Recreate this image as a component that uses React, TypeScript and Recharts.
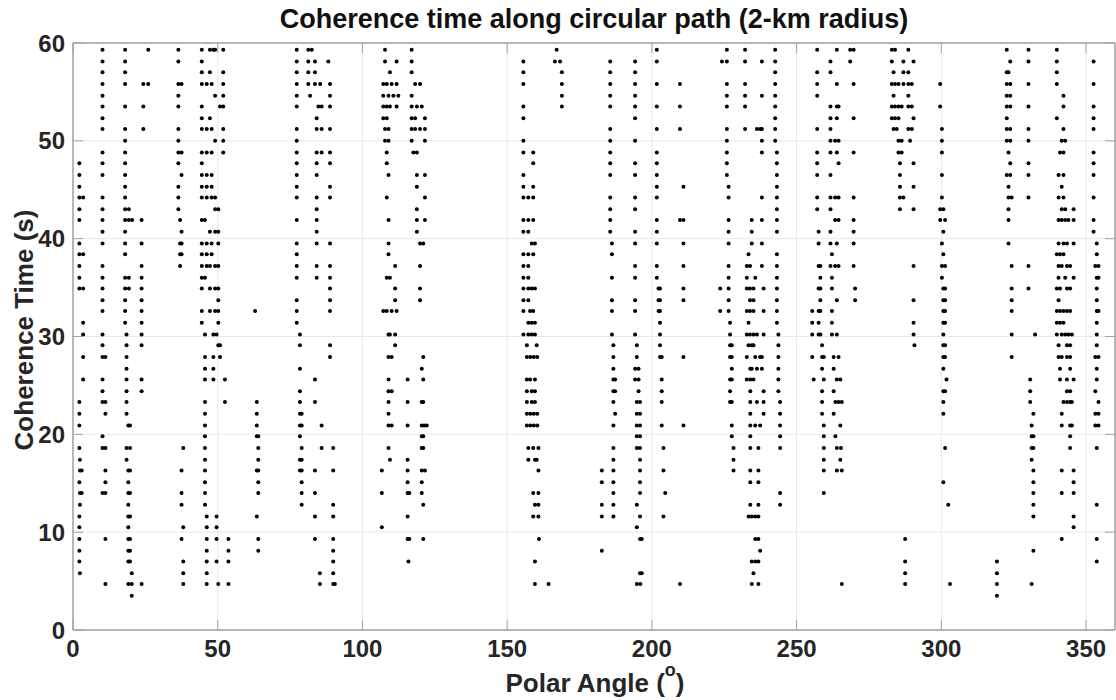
import React from 'react';
import { ScatterChart, Scatter, XAxis, YAxis, CartesianGrid, ReferenceLine } from 'recharts';

type Row = [number, number[]];

const xTicks = [0, 50, 100, 150, 200, 250, 300, 350];
const yTicks = [0, 10, 20, 30, 40, 50, 60];

// Each row: [coherence time (s), polar angles (deg) of the points at that time]
const topLeft: Row[] = [
  [59.3, [10.2, 18.0, 26.0, 36.4, 44.5, 47.3, 48.5, 49.1, 51.9, 77.3, 81.3, 82.5, 107.8]],
  [58.1, [10.2, 18.0, 36.4, 44.5, 77.3, 81.3, 83.6, 88.2, 107.8, 111.8]],
  [57.0, [10.2, 18.0, 44.5, 47.3, 51.9, 77.3, 81.3, 83.6, 109.5]],
  [55.8, [10.2, 18.0, 24.3, 26.0, 36.4, 37.5, 44.5, 46.2, 47.9, 51.9, 77.3, 81.3, 83.6, 85.4, 88.8, 107.2, 108.4, 110.1, 111.8]],
  [54.6, [10.2, 36.4, 49.1, 51.9, 77.3, 81.9, 88.8, 107.2, 109.0, 110.7, 112.4]],
  [53.5, [10.2, 18.0, 24.3, 36.4, 44.5, 50.8, 51.9, 77.3, 84.8, 85.9, 88.8, 107.2, 108.4, 109.5, 111.8]],
  [52.3, [10.2, 44.5, 47.3, 84.2, 107.2, 108.4]],
  [51.2, [10.2, 18.0, 24.3, 36.4, 44.5, 46.2, 47.9, 51.9, 77.3, 84.2, 85.9, 88.8, 107.8, 109.0]],
  [50.0, [18.0, 36.4, 49.1, 51.9, 77.3, 107.8, 109.0]],
  [48.8, [10.2, 18.0, 36.4, 37.5, 44.5, 46.2, 47.9, 51.9, 77.3, 84.2, 85.9, 88.8, 108.4]],
  [47.7, [2.2, 10.2, 18.0, 36.4, 44.5, 77.3, 84.2, 88.8, 108.4]],
  [46.5, [2.2, 10.2, 18.0, 37.5, 44.5, 46.2, 47.9, 77.3, 84.2, 109.0]],
  [45.3, [2.2, 18.0, 36.4, 44.5, 46.2, 47.9, 77.3, 88.8]],
  [44.2, [2.2, 3.5, 10.2, 18.0, 36.4, 44.5, 46.2, 47.9, 49.1, 77.3, 84.2, 88.8, 108.4]],
  [43.0, [2.2, 10.2, 18.0, 19.3, 36.4, 49.1, 50.2, 84.2]],
  [41.9, [2.2, 10.2, 18.0, 19.3, 20.4, 23.7, 37.0, 44.5, 45.6, 77.3, 84.2, 109.0]],
  [40.7, [10.2, 18.0, 37.5, 47.3, 49.1, 50.2, 84.2]],
  [39.5, [2.2, 10.2, 18.0, 23.7, 37.0, 37.5, 44.5, 46.2, 47.9, 50.2, 77.3, 84.2, 88.8, 109.0]],
  [38.4, [2.2, 3.5, 18.0, 37.0, 37.5, 44.5, 46.2, 47.9, 77.3, 109.0]],
  [37.2, [2.2, 10.2, 23.7, 37.0, 44.5, 46.2, 47.3, 49.1, 50.2, 77.3, 84.2, 88.8, 111.3]],
  [36.0, [2.2, 10.2, 18.0, 19.3, 23.7, 44.5, 45.6, 77.3, 84.2, 88.8, 108.4, 109.5]],
  [34.9, [2.2, 3.5, 10.2, 18.0, 19.3, 23.7, 44.5, 47.3, 49.1, 50.2, 88.8, 111.3]],
  [33.7, [10.2, 18.0, 23.7, 50.2, 77.3, 88.8, 111.3]],
  [32.6, [10.2, 18.0, 23.7, 44.5, 47.3, 49.1, 50.2, 62.9, 77.3, 88.8, 107.2, 108.4, 110.1, 111.8]],
  [31.4, [3.5, 18.0, 23.7, 44.5, 50.2, 77.3]],
];

const bottomLeft: Row[] = [
  [30.2, [3.5, 10.2, 18.5, 23.7, 45.6, 48.5, 49.6, 78.4, 109.0, 109.5, 111.3]],
  [29.1, [10.2, 18.5, 23.7, 50.2, 50.8, 78.4, 88.8, 111.3]],
  [27.9, [3.5, 10.2, 11.2, 18.5, 45.6, 48.5, 50.8, 88.8, 109.0, 110.1]],
  [26.7, [18.5, 45.6, 48.5, 78.4]],
  [25.6, [3.5, 10.2, 18.5, 23.7, 45.6, 48.5, 52.5, 83.6, 109.0]],
  [24.4, [10.2, 18.5, 23.7, 78.4, 109.0, 110.1]],
  [23.3, [2.2, 10.2, 11.2, 18.5, 45.6, 52.5, 63.5, 78.4, 83.6, 109.0]],
  [22.1, [2.2, 11.2, 18.5, 45.6, 63.5, 78.4, 79.0, 109.0]],
  [20.9, [2.2, 19.1, 19.7, 45.6, 63.5, 78.4, 79.0, 85.9, 109.0, 110.1]],
  [19.8, [10.2, 45.6, 63.5, 64.0, 78.4]],
  [18.6, [2.2, 10.2, 11.2, 18.5, 19.7, 38.1, 45.6, 64.0, 79.0, 85.9, 89.9, 109.0]],
  [17.4, [2.4, 18.5, 45.6, 64.0, 78.4, 79.0, 109.5]],
  [16.3, [2.4, 3.0, 11.2, 19.1, 19.7, 37.5, 45.6, 63.5, 64.0, 78.4, 79.0, 83.6, 89.9, 106.7]],
  [15.1, [2.2, 11.2, 19.1, 45.6, 64.0, 79.0]],
  [14.0, [2.4, 3.0, 10.2, 11.2, 19.1, 19.7, 37.5, 45.6, 64.0, 79.0, 83.6, 106.7]],
  [12.8, [2.4, 19.1, 37.5, 45.6, 79.0, 89.9]],
  [11.6, [2.2, 19.1, 19.7, 46.2, 49.6, 63.5, 83.6, 89.9]],
  [10.5, [2.2, 19.1, 38.1, 46.2, 49.6, 106.7]],
  [9.3, [2.2, 11.2, 19.1, 19.7, 37.5, 46.2, 49.6, 53.7, 64.0, 83.6, 89.9]],
  [8.1, [2.2, 19.1, 19.7, 46.2, 53.7, 64.0, 89.9]],
  [7.0, [2.2, 19.1, 19.7, 38.1, 46.2, 49.6, 53.7, 89.9]],
  [5.8, [2.4, 20.3, 38.1, 46.2, 85.3, 89.9]],
  [4.7, [11.2, 19.1, 20.3, 23.7, 38.1, 46.2, 50.2, 53.7, 85.3, 89.9, 90.5]],
  [3.5, [20.3]],
];

const topMid: Row[] = [
  [59.3, [117.0, 167.1]],
  [58.1, [117.0, 155.6, 166.5, 168.3, 185.6, 194.2]],
  [57.0, [117.0, 155.6, 168.9, 185.6, 194.2]],
  [55.8, [118.2, 119.9, 155.6, 168.9, 185.6, 194.2]],
  [54.6, [117.0, 168.9, 185.6, 194.2]],
  [53.5, [117.0, 118.8, 120.5, 155.6, 168.9, 185.6, 194.2]],
  [52.3, [117.0, 118.2, 121.6, 155.6, 194.2]],
  [51.2, [117.0, 118.2, 119.9, 121.6, 185.6]],
  [50.0, [117.0, 121.6, 155.6, 185.6, 194.2]],
  [48.8, [117.6, 118.8, 155.6, 159.0, 185.6]],
  [47.7, [159.0, 185.6, 194.2]],
  [46.5, [118.8, 121.6, 155.6, 185.6, 194.2]],
  [45.3, [118.8, 155.6, 159.0]],
  [44.2, [121.6, 155.6, 157.3, 159.0, 185.6, 194.2]],
  [43.0, [118.8, 185.6, 194.2]],
  [41.9, [118.8, 121.6, 155.6, 157.3, 159.0, 185.6]],
  [40.7, [118.8, 155.6, 157.3, 185.6, 194.2]],
  [39.5, [119.9, 121.0, 158.5, 159.6, 186.2, 194.2]],
  [38.4, [155.6, 157.3, 159.0, 186.2]],
  [37.2, [119.9, 155.6, 157.3, 194.2]],
  [36.0, [155.6, 157.3, 186.2, 194.2]],
  [34.9, [119.9, 155.6, 157.3, 158.5, 159.6]],
  [33.7, [119.9, 155.6, 157.3, 186.2, 194.2]],
  [32.6, [155.6, 157.9, 159.0, 186.2, 194.2]],
  [31.4, [157.3, 158.5, 159.6]],
  [30.2, [155.6, 157.3, 158.5, 159.6, 186.2, 194.2]],
];

const bottomMid: Row[] = [
  [29.1, [156.8, 160.2, 186.7, 194.8]],
  [27.9, [121.0, 156.8, 158.0, 159.2, 160.4, 186.7, 194.8]],
  [26.7, [120.5, 186.7, 194.2, 195.4]],
  [25.6, [115.6, 121.0, 156.8, 157.9, 159.6, 186.7, 187.3, 194.2, 195.4]],
  [24.4, [156.8, 158.5, 159.6, 186.7, 187.3, 195.4]],
  [23.3, [115.6, 120.5, 121.0, 156.8, 158.5, 159.6, 186.7, 194.8, 195.9]],
  [22.1, [156.8, 158.0, 159.2, 160.4, 187.3, 194.8, 195.9]],
  [20.9, [115.6, 120.5, 121.3, 122.2, 156.8, 158.0, 159.2, 160.4, 186.7, 194.8, 195.9]],
  [19.8, [120.5, 121.0, 194.8, 195.9]],
  [18.6, [120.5, 121.0, 157.3, 159.0, 160.8, 186.7, 194.8, 195.9]],
  [17.4, [115.6, 157.3, 159.6, 160.2, 186.7, 195.9]],
  [16.3, [115.6, 120.5, 121.6, 160.8, 182.7, 186.7, 195.9]],
  [15.1, [115.6, 120.5, 182.7, 186.7, 195.9]],
  [14.0, [115.6, 116.2, 120.5, 159.0, 160.8, 186.7, 195.9]],
  [12.8, [121.0, 159.6, 160.8, 182.7, 186.7, 194.8]],
  [11.6, [115.6, 159.0, 160.8, 182.7, 186.7, 195.9]],
  [10.5, [194.8]],
  [9.3, [115.6, 116.2, 121.0, 161.0, 195.9, 196.5]],
  [8.1, [182.7]],
  [7.0, [115.9, 159.6]],
  [5.8, [195.9, 196.5]],
  [4.7, [159.6, 164.3, 194.8, 196.0]],
];

const topRightA: Row[] = [
  [59.3, [201.7, 225.9, 232.2, 242.6, 257.1, 263.9, 268.5, 269.7]],
  [58.1, [201.7, 224.2, 225.9, 232.2, 238.0, 242.6, 261.7, 268.5]],
  [57.0, [242.6, 257.1, 261.7]],
  [55.8, [201.7, 209.7, 225.9, 232.2, 242.6, 257.1, 263.9, 269.7]],
  [54.6, [225.9, 232.2, 238.0, 242.6, 257.1]],
  [53.5, [201.7, 209.7, 225.9, 232.2, 242.6, 261.7, 263.9, 264.5]],
  [52.3, [242.6, 261.7, 263.9, 269.7]],
  [51.2, [201.7, 209.7, 225.9, 232.2, 236.3, 237.4, 238.0, 242.6, 257.1, 261.7]],
  [50.0, [225.9, 238.0, 242.6, 261.7, 263.3, 264.5]],
  [48.8, [201.7, 225.9, 238.0, 243.2, 257.1, 261.7, 263.9, 269.7]],
  [47.7, [201.7, 225.9, 243.2, 257.1, 264.5]],
  [46.5, [201.7, 225.9, 243.2, 257.1, 261.7]],
  [45.3, [201.7, 210.9, 226.5, 243.2]],
  [44.2, [201.7, 226.5, 238.0, 243.2, 257.1, 261.7, 263.3, 264.5, 269.7]],
  [43.0, [243.2, 257.1, 261.7]],
  [41.9, [201.7, 209.7, 210.9, 226.5, 234.5, 238.0, 243.2, 263.3, 264.5, 269.7]],
  [40.7, [201.7, 226.5, 234.5, 243.2, 257.6, 261.7, 269.7]],
  [39.5, [201.7, 210.9, 226.5, 234.5, 238.0, 257.6, 261.7, 263.9, 269.7]],
  [38.4, [233.4, 243.2, 262.2]],
  [37.2, [201.7, 210.9, 226.5, 232.8, 233.9, 238.0, 243.2, 257.6, 258.2, 261.7, 263.3, 264.5, 269.7]],
  [36.0, [201.7, 226.5, 232.8, 235.7, 243.2, 258.2, 262.2]],
  [34.9, [202.3, 202.8, 210.9, 223.6, 226.5, 232.8, 233.9, 235.1, 238.6, 243.2, 257.6, 258.2, 262.2, 270.2]],
  [33.7, [202.3, 202.8, 210.9, 226.5, 233.9, 235.1, 243.2, 258.2, 263.9, 270.2]],
  [32.6, [202.3, 202.8, 223.6, 226.5, 232.8, 233.9, 235.1, 238.6, 243.2, 255.4, 257.6, 258.2, 262.2]],
  [31.4, [202.8, 227.0, 233.4, 243.2, 255.4, 257.6, 262.2]],
  [30.2, [202.8, 227.0, 232.8, 233.9, 235.1, 236.3, 238.6, 243.7, 255.4, 257.6, 258.2, 262.2, 263.9]],
];

const bottomRightA: Row[] = [
  [29.1, [202.8, 227.0, 227.6, 233.4, 234.5, 235.1, 243.7, 258.8]],
  [27.9, [202.8, 203.4, 210.9, 227.0, 227.6, 232.8, 235.7, 237.4, 238.0, 243.7, 255.4, 258.8, 259.4, 262.8, 264.5]],
  [26.7, [227.6, 234.0, 234.5, 236.3, 238.0, 243.7, 258.8, 262.8]],
  [25.6, [203.4, 227.0, 227.6, 232.8, 234.0, 235.1, 243.7, 255.9, 259.4, 263.9, 265.1]],
  [24.4, [203.4, 227.0, 234.0, 238.6, 243.7, 258.8, 262.8]],
  [23.3, [203.4, 227.0, 227.6, 234.0, 236.3, 238.6, 244.3, 258.8, 263.4, 264.5, 265.6]],
  [22.1, [234.0, 238.6, 244.3, 258.8, 262.8]],
  [20.9, [203.4, 210.9, 227.6, 234.0, 235.7, 237.4, 244.3, 259.4, 265.1]],
  [19.8, [227.6, 234.0, 244.3, 259.4, 263.4]],
  [18.6, [204.0, 228.2, 234.0, 236.8, 244.3, 259.4, 263.9, 265.3]],
  [17.4, [228.2, 259.4, 265.1]],
  [16.3, [204.0, 228.2, 234.0, 236.8, 259.4, 263.9, 265.6]],
  [15.1, [234.0, 236.8]],
  [14.0, [204.6, 244.3, 259.4]],
  [12.8, [234.0, 236.8, 244.3]],
  [11.6, [204.0, 233.4, 234.5, 235.7, 236.8]],
  [9.3, [235.7, 236.8]],
  [8.1, [237.4]],
  [7.0, [234.5, 235.7, 236.8]],
  [5.8, [235.1]],
  [4.7, [209.7, 234.5, 236.8, 265.6]],
];

const topRightB: Row[] = [
  [59.3, [282.9, 284.0, 288.6, 322.6, 330.1, 339.9]],
  [58.1, [282.9, 286.9, 290.4, 323.8, 330.1, 339.9, 352.6]],
  [57.0, [283.5, 286.9, 288.6, 322.6, 323.2, 339.9]],
  [55.8, [282.9, 284.0, 285.2, 286.9, 288.6, 289.8, 299.6, 322.6, 323.8, 330.1, 339.9, 352.6]],
  [54.6, [283.5, 288.6, 322.6, 323.8, 342.2]],
  [53.5, [282.9, 284.0, 285.2, 286.3, 288.6, 289.8, 299.6, 322.6, 323.8, 330.1, 342.2, 352.6]],
  [52.3, [282.9, 284.0, 285.2, 290.4, 322.6, 339.9, 352.6]],
  [51.2, [283.5, 284.6, 288.6, 289.8, 300.2, 322.6, 323.8, 330.1, 342.2, 352.6]],
  [50.0, [285.2, 286.3, 289.2, 300.2, 322.6, 323.8, 330.1, 341.6, 342.8]],
  [48.8, [285.2, 286.3, 300.2, 323.2, 341.0, 342.2, 352.6]],
  [47.7, [285.7, 290.4, 323.8, 330.1, 352.6]],
  [46.5, [285.7, 300.2, 322.6, 323.8, 330.1, 340.5, 342.2, 352.6]],
  [45.3, [285.7, 290.4, 323.2, 341.6]],
  [44.2, [285.7, 286.9, 300.2, 323.2, 324.3, 330.1, 340.5, 342.2, 352.6]],
  [43.0, [285.7, 290.4, 299.6, 300.7, 323.2, 341.6, 342.8, 345.7]],
  [41.9, [299.6, 301.3, 323.2, 340.5, 341.6, 342.8, 343.9, 345.7, 352.6]],
  [40.7, [300.7, 352.6]],
  [39.5, [300.2, 323.2, 340.5, 342.2, 343.4, 345.7, 353.7]],
  [38.4, [300.7, 339.9, 341.0, 342.2, 353.7]],
  [37.2, [290.4, 300.2, 301.3, 324.3, 330.1, 340.5, 341.6, 343.4, 344.5, 353.2, 354.3]],
  [36.0, [300.2, 340.5, 342.8, 345.7, 353.7, 354.3]],
  [34.9, [300.7, 301.3, 324.3, 330.1, 339.9, 341.0, 343.4, 344.5, 353.7]],
  [33.7, [290.4, 300.7, 301.3, 324.3, 340.5, 353.7]],
  [32.6, [300.7, 301.3, 324.3, 339.9, 341.0, 342.2, 343.4, 344.5, 353.7, 354.3]],
  [31.4, [290.4, 300.7, 301.3, 339.9, 341.0, 342.2, 353.7]],
  [30.2, [290.4, 300.7, 324.3, 332.4, 339.9, 341.6, 342.8, 343.9, 345.1, 353.7]],
];

const bottomRightB: Row[] = [
  [29.1, [290.7, 300.7, 301.3, 340.5, 343.4, 344.5, 353.7]],
  [27.9, [300.7, 301.3, 324.3, 340.5, 341.6, 343.4, 344.5, 353.2, 354.3]],
  [26.7, [300.7, 341.0, 344.5, 353.7]],
  [25.6, [301.8, 330.7, 341.0, 343.4, 345.7, 353.7]],
  [24.4, [300.7, 301.3, 330.7, 343.4, 344.5, 353.2]],
  [23.3, [300.7, 330.7, 342.2, 343.4, 344.5, 345.1, 354.3]],
  [22.1, [300.7, 331.8, 341.6, 353.2, 354.3]],
  [20.9, [331.2, 341.6, 344.5, 345.1, 353.2, 354.3]],
  [19.8, [331.2, 331.8, 344.5]],
  [18.6, [301.3, 331.2, 331.8, 344.5, 353.7]],
  [17.4, [331.2]],
  [16.3, [331.8, 341.6, 345.7]],
  [15.1, [300.7, 331.8, 345.7]],
  [14.0, [331.8, 341.6, 345.7]],
  [12.8, [302.4, 331.8, 353.7]],
  [11.6, [331.8, 345.7]],
  [10.5, [345.7]],
  [9.3, [287.5, 341.6, 353.7]],
  [8.1, [331.8]],
  [7.0, [287.5, 319.2, 353.7]],
  [5.8, [287.5, 319.2]],
  [4.7, [287.5, 303.0, 319.2, 331.2]],
  [3.5, [319.2]],
];

const allRows: Row[] = [
  ...topLeft, ...bottomLeft, ...topMid, ...bottomMid,
  ...topRightA, ...bottomRightA, ...topRightB, ...bottomRightB,
];
const points = allRows.flatMap(([t, angles]) => angles.map((a) => ({ angle: a, time: t })));

const W = 1116;
const H = 700;
const M_TOP = 43;
const M_RIGHT = 1;
const Y_AXIS_W = 73;
const X_AXIS_H = 70;
const PLOT_TOP = M_TOP;
const PLOT_BOTTOM = H - X_AXIS_H;
const PLOT_LEFT = Y_AXIS_W;
const PLOT_RIGHT = W - M_RIGHT;

const FONT = '"Liberation Sans", Arial, Helvetica, sans-serif';
const TEXT = '#262626';
const BOX = '#a3a3a3';
const TICK_LEN = 10;

const XTick = (props: any) => {
  const { x, payload } = props;
  return (
    <g>
      <line x1={x} y1={PLOT_BOTTOM} x2={x} y2={PLOT_BOTTOM - TICK_LEN} stroke={BOX} strokeWidth={1} />
      <line x1={x} y1={PLOT_TOP} x2={x} y2={PLOT_TOP + TICK_LEN} stroke={BOX} strokeWidth={1} />
      <text x={x} y={PLOT_BOTTOM + 27} textAnchor="middle" fontFamily={FONT} fontWeight="bold" fontSize={24} fill={TEXT}>
        {payload.value}
      </text>
    </g>
  );
};

const YTick = (props: any) => {
  const { y, payload } = props;
  return (
    <g>
      <line x1={PLOT_LEFT} y1={y} x2={PLOT_LEFT + TICK_LEN} y2={y} stroke={BOX} strokeWidth={1} />
      <line x1={PLOT_RIGHT} y1={y} x2={PLOT_RIGHT - TICK_LEN} y2={y} stroke={BOX} strokeWidth={1} />
      <text x={PLOT_LEFT - 8} y={y} dy="0.36em" textAnchor="end" fontFamily={FONT} fontWeight="bold" fontSize={24} fill={TEXT}>
        {payload.value}
      </text>
    </g>
  );
};

const Dot = (props: any) => <circle cx={props.cx} cy={props.cy} r={2} fill="#000" />;

export default function App() {
  return (
    <div style={{ position: 'absolute', left: 0, top: 0, width: W, height: H, background: '#fff' }}>
      <ScatterChart width={W} height={H} margin={{ top: M_TOP, right: M_RIGHT, bottom: 0, left: 0 }}>
        <CartesianGrid stroke="#e8e8e8" strokeWidth={1} />
        <XAxis
          type="number"
          dataKey="angle"
          domain={[0, 360]}
          ticks={xTicks}
          interval={0}
          height={X_AXIS_H}
          tickLine={false}
          tickSize={0}
          tickMargin={0}
          axisLine={{ stroke: BOX, strokeWidth: 1.5 }}
          tick={<XTick />}
          allowDataOverflow
        />
        <YAxis
          type="number"
          dataKey="time"
          domain={[0, 60]}
          ticks={yTicks}
          interval={0}
          width={Y_AXIS_W}
          tickLine={false}
          tickSize={0}
          tickMargin={0}
          axisLine={{ stroke: BOX, strokeWidth: 1.5 }}
          tick={<YTick />}
          allowDataOverflow
        />
        <ReferenceLine y={60} stroke={BOX} strokeWidth={1.5} />
        <ReferenceLine x={360} stroke={BOX} strokeWidth={1.5} />
        <Scatter data={points} shape={<Dot />} isAnimationActive={false} />
      </ScatterChart>
      <svg width={W} height={H} style={{ position: 'absolute', left: 0, top: 0, pointerEvents: 'none' }}>
        <text x={594} y={28} textAnchor="middle" fontFamily={FONT} fontWeight="bold" fontSize={27} fill="#111">
          Coherence time along circular path (2-km radius)
        </text>
        <text x={595} y={692} textAnchor="middle" fontFamily={FONT} fontWeight="bold" fontSize={26} fill={TEXT}>
          Polar Angle (<tspan fontSize={18} dy={-16}>o</tspan><tspan dy={16}>)</tspan>
        </text>
        <text
          transform="translate(33,330) rotate(-90)"
          textAnchor="middle"
          fontFamily={FONT}
          fontWeight="bold"
          fontSize={26}
          fill={TEXT}
        >
          Coherence Time (s)
        </text>
      </svg>
    </div>
  );
}
